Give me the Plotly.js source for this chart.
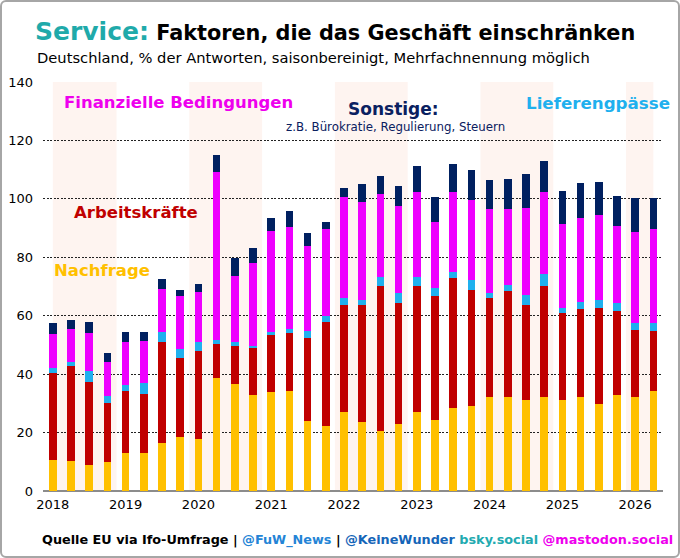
<!DOCTYPE html>
<html>
<head>
<meta charset="utf-8">
<script src="https://cdn.plot.ly/plotly-3.0.1.min.js"></script>
<style>
  html, body { margin: 0; padding: 0; background: #fff; }
  #wrap { position: relative; width: 680px; height: 558px; }
  #chart { width: 680px; height: 558px; }
  #frame { position: absolute; left: 0; top: 0; width: 680px; height: 558px; box-sizing: border-box;
           border: 2px solid #a6a6a6; border-radius: 6px; pointer-events: none; }
</style>
</head>
<body>
<div id="wrap"><div id="chart"></div><div id="frame"></div></div>
<script>
// Quarterly categories (2018 Q1 – 2026 Q2)
const quarters = [
  '2018 Q1','2018 Q2','2018 Q3','2018 Q4',
  '2019 Q1','2019 Q2','2019 Q3','2019 Q4',
  '2020 Q1','2020 Q2','2020 Q3','2020 Q4',
  '2021 Q1','2021 Q2','2021 Q3','2021 Q4',
  '2022 Q1','2022 Q2','2022 Q3','2022 Q4',
  '2023 Q1','2023 Q2','2023 Q3','2023 Q4',
  '2024 Q1','2024 Q2','2024 Q3','2024 Q4',
  '2025 Q1','2025 Q2','2025 Q3','2025 Q4',
  '2026 Q1','2026 Q2'
];

// Series values, % of responses
const nachfrage = [10.6,10.3,8.9,10.0, 13.0,13.0,16.3,18.6, 17.7,38.7,36.6,32.9, 33.8,34.4,24.1,22.4,
                   27.2,23.7,20.5,22.8, 27.1,24.4,28.3,29.2, 32.1,32.3,31.2,32.1, 31.2,32.2,29.8,32.8, 32.2,34.2];
const arbeitskraefte = [29.9,32.5,28.4,20.0, 21.4,20.3,34.8,26.8, 30.2,11.6,13.2,16.1, 19.6,19.6,28.3,35.4,
                   36.6,39.8,49.7,41.4, 43.1,42.5,44.5,39.5, 33.8,36.1,32.6,38.1, 29.6,30.2,33.0,28.7, 22.8,20.6];
const lieferengpaesse = [1.6,1.4,3.8,2.6, 2.0,3.5,3.4,3.2, 3.0,1.4,1.1,0.8, 0.9,1.5,2.2,2.1,
                   2.3,1.9,2.9,3.5, 3.1,2.6,2.2,3.6, 1.9,2.1,3.4,4.0, 1.9,2.3,2.7,2.9, 2.4,2.6];
const finanziell = [11.7,11.4,13.1,11.6, 14.6,14.7,14.7,18.2, 17.3,57.4,22.7,28.4, 34.7,35.0,29.3,29.8,
                   34.5,33.6,28.4,29.9, 29.1,22.6,27.2,27.4, 28.7,26.1,29.6,28.2, 28.7,28.7,29.1,26.4, 31.1,32.2];
const sonstige = [3.8,3.0,3.6,3.2, 3.3,2.8,3.4,2.0, 2.6,6.0,6.3,5.0, 4.6,5.4,4.5,2.4,
                   3.1,6.1,6.3,6.7, 9.0,8.5,9.9,10.3, 10.1,10.2,11.8,10.7, 11.3,12.2,11.1,10.2, 11.7,10.7];

// Axis tick labels
const tickYears = ['2018','2019','2020','2021','2022','2023','2024','2025','2026'];
const yTicks = [0,20,40,60,80,100,120,140];
// Years with shaded background
const shadedYears = ['2018','2020','2022','2024','2026'];

const seriesDefs = [
  {name: 'Nachfrage', y: nachfrage, color: '#FFC000'},
  {name: 'Arbeitskräfte', y: arbeitskraefte, color: '#C00000'},
  {name: 'Lieferengpässe', y: lieferengpaesse, color: '#1FB0EE'},
  {name: 'Finanzielle Bedingungen', y: finanziell, color: '#EE00FF'},
  {name: 'Sonstige', y: sonstige, color: '#002060'}
];

const traces = seriesDefs.map(s => ({
  type: 'bar', x: quarters, y: s.y, name: s.name,
  marker: {color: s.color, line: {width: 0}},
  hoverinfo: 'skip'
}));

const tickvals = tickYears.map(y => y + ' Q1');

// background bands: from half a quarter before Q1 to half a quarter after Q4, clipped to the data
const nQ = quarters.length;
const shapes = shadedYears.map(yr => {
  const i0 = quarters.indexOf(yr + ' Q1');
  return {
    type: 'rect', layer: 'below', xref: 'x', yref: 'paper',
    x0: Math.max(i0 - 0.5, 0), x1: Math.min(i0 + 3.5, nQ - 1),
    y0: 0, y1: 1, fillcolor: '#FEF4F0', line: {width: 0}
  };
});

const F = 'DejaVu Sans, Verdana, sans-serif';
const layout = {
  width: 680, height: 558,
  margin: {l: 43, r: 17, t: 82, b: 67},
  paper_bgcolor: '#ffffff', plot_bgcolor: 'rgba(0,0,0,0)',
  barmode: 'stack', bargap: 0.58,
  showlegend: false,
  font: {family: F, color: '#000'},
  title: {
    text: '<span style="color:#1FAAAA;font-size:25px">Service:</span> Faktoren, die das Geschäft einschränken',
    font: {family: F, size: 20.8, color: '#000', weight: 'bold'},
    xref: 'container', yref: 'container', x: 35/680, xanchor: 'left', y: 1 - 33/558, yanchor: 'middle'
  },
  xaxis: {
    type: 'category', range: [-0.54, 33.53],
    tickvals: tickvals, ticktext: tickYears,
    tickfont: {family: F, size: 13, color: '#000'},
    showgrid: false, zeroline: false, showline: false, ticks: '', ticklabelstandoff: 4
  },
  yaxis: {
    range: [0, 140], tickvals: yTicks,
    tickfont: {family: F, size: 13, color: '#000'},
    showgrid: true, gridcolor: '#222', gridwidth: 1.2, griddash: '2px,1.5px',
    zeroline: true, zerolinecolor: '#8c8c8c', zerolinewidth: 2,
    showline: false, ticks: '', ticklabelstandoff: 9
  },
  shapes: shapes,
  annotations: [
    {xref: 'paper', yref: 'paper', x: -8/620, y: (491-57)/409, xanchor: 'left', yanchor: 'middle', showarrow: false,
     text: 'Deutschland, % der Antworten, saisonbereinigt, Mehrfachnennung möglich',
     font: {family: F, size: 14.7, color: '#000'}},
    {xref: 'paper', yref: 'paper', x: (62-43)/620, y: (491-103)/409, xanchor: 'left', yanchor: 'middle', showarrow: false,
     text: 'Finanzielle Bedingungen', font: {family: F, size: 16.5, color: '#EE00EE', weight: 'bold'}},
    {xref: 'paper', yref: 'paper', x: (393-43)/620, y: (491-109)/409, xanchor: 'center', yanchor: 'middle', showarrow: false,
     text: 'Sonstige:', font: {family: F, size: 17, color: '#0A2060', weight: 'bold'}},
    {xref: 'paper', yref: 'paper', x: (395-43)/620, y: (491-127)/409, xanchor: 'center', yanchor: 'middle', showarrow: false,
     text: 'z.B. Bürokratie, Regulierung, Steuern', font: {family: F, size: 11.8, color: '#0A2060'}},
    {xref: 'paper', yref: 'paper', x: (672-43)/620, y: (491-103)/409, xanchor: 'right', yanchor: 'middle', showarrow: false,
     text: 'Lieferengpässe', font: {family: F, size: 16.7, color: '#1FB0EE', weight: 'bold'}},
    {xref: 'paper', yref: 'paper', x: (72-43)/620, y: (491-212)/409, xanchor: 'left', yanchor: 'middle', showarrow: false,
     text: 'Arbeitskräfte', font: {family: F, size: 16.5, color: '#C00000', weight: 'bold'}},
    {xref: 'paper', yref: 'paper', x: (52-43)/620, y: (491-270)/409, xanchor: 'left', yanchor: 'middle', showarrow: false,
     text: 'Nachfrage', font: {family: F, size: 16.5, color: '#FFC000', weight: 'bold'}},
    {xref: 'paper', yref: 'paper', x: (40-43)/620, y: (491-540)/409, xanchor: 'left', yanchor: 'middle', showarrow: false,
     text: 'Quelle EU via Ifo-Umfrage | <span style="color:#2484D6">@FuW_News</span> | <span style="color:#1565B8">@KeineWunder</span> <span style="color:#22AAB0">bsky.social</span> <span style="color:#EE00EE">@mastodon.social</span>',
     font: {family: F, size: 12.8, color: '#000', weight: 'bold'}}
  ]
};

Plotly.newPlot('chart', traces, layout, {displayModeBar: false, staticPlot: true});
</script>
</body>
</html>
